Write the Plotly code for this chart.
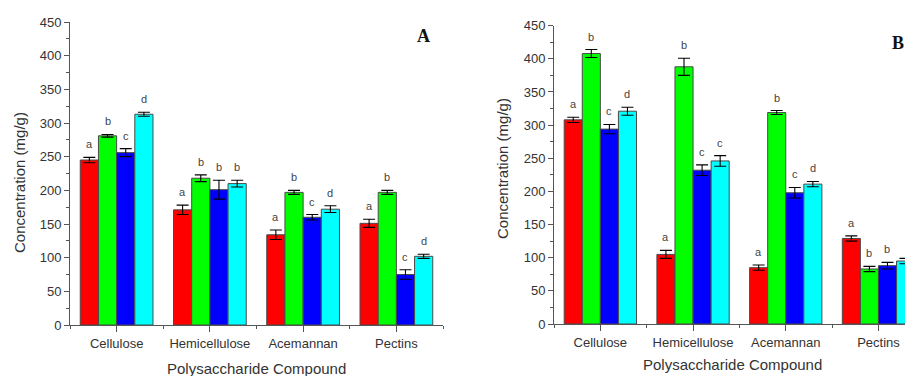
import plotly.graph_objects as go

categories = ["Cellulose", "Hemicellulose", "Acemannan", "Pectins"]
series_names = ["Red", "Green", "Blue", "Cyan"]
colors = ["#FF0000", "#00FF00", "#0000FF", "#00FFFF"]

# Panel A values (mg/g)
a_red = [245, 171, 134, 151]
a_green = [281, 218, 197, 197]
a_blue = [256, 201, 160, 75]
a_cyan = [313, 210, 172, 102]
a_red_err = [4, 7, 7, 6]
a_green_err = [2, 5, 3, 3]
a_blue_err = [6, 14, 4, 7]
a_cyan_err = [3, 5, 5, 3]
a_red_letters = ["a", "a", "a", "a"]
a_green_letters = ["b", "b", "b", "b"]
a_blue_letters = ["c", "b", "c", "c"]
a_cyan_letters = ["d", "b", "d", "d"]

# Panel B values (mg/g)
b_red = [308, 105, 85, 129]
b_green = [408, 388, 319, 83]
b_blue = [294, 232, 198, 88]
b_cyan = [321, 246, 211, 95]
b_red_err = [4, 6, 4, 4]
b_green_err = [6, 13, 3, 4]
b_blue_err = [7, 8, 8, 5]
b_cyan_err = [6, 8, 4, 4]
b_red_letters = ["a", "a", "a", "a"]
b_green_letters = ["b", "b", "b", "b"]
b_blue_letters = ["c", "c", "c", "b"]
b_cyan_letters = ["d", "c", "d", "c"]

y_ticks = [0, 50, 100, 150, 200, 250, 300, 350, 400, 450]

# the page body adds an 8px margin round the figure
OFF = 8
W, H = 913 - 2 * OFF, 376 - OFF
FONT = "Liberation Sans"
CAT_PX = 92.7  # width of one category on panel B, in pixels


def px(x):
    return (x - OFF) / W


def py(y):
    return 1 - (y - OFF) / H


panel_a = dict(
    vals=[a_red, a_green, a_blue, a_cyan],
    errs=[a_red_err, a_green_err, a_blue_err, a_cyan_err],
    letters=[a_red_letters, a_green_letters, a_blue_letters, a_cyan_letters],
)
panel_b = dict(
    vals=[b_red, b_green, b_blue, b_cyan],
    errs=[b_red_err, b_green_err, b_blue_err, b_cyan_err],
    letters=[b_red_letters, b_green_letters, b_blue_letters, b_cyan_letters],
)

xpos = list(range(len(categories)))
fig = go.Figure()
annotations = []

n = len(series_names)
group_frac = 0.78  # fraction of category used by the bar group
bw = group_frac / n

for p, (panel, xa, ya) in enumerate([(panel_a, "x", "y"), (panel_b, "x2", "y2")]):
    for i in range(n):
        fig.add_trace(go.Bar(
            x=xpos, y=panel["vals"][i], name=series_names[i],
            marker=dict(color=colors[i], line=dict(color="#4a4a4a", width=1)),
            error_y=dict(type="data", array=panel["errs"][i], color="#000000",
                         thickness=1.1, width=6),
            xaxis=xa, yaxis=ya, showlegend=False,
        ))
        offs = -group_frac / 2 + bw * (i + 0.5)
        for j in xpos:
            annotations.append(dict(
                x=j + offs, y=panel["vals"][i][j] + panel["errs"][i][j],
                xref=xa, yref=ya, text=panel["letters"][i][j], showarrow=False,
                yanchor="bottom", yshift=5,
                font=dict(family=FONT, size=11, color="#444444"),
            ))

axis_common = dict(
    showgrid=False, zeroline=False, showline=True, linecolor="#555555",
    linewidth=1, ticks="outside", tickcolor="#555555", tickfont=dict(family=FONT, size=13, color="#333333"),
)

b_right = OFF + W  # right edge of the visible figure
fig.update_layout(
    width=W, height=H,
    margin=dict(l=0, r=0, t=0, b=0, autoexpand=False),
    paper_bgcolor="white", plot_bgcolor="white",
    barmode="group", bargap=0.22, bargroupgap=0,
    xaxis=dict(domain=[px(70), px(443)], range=[-0.5, 3.5],
               tickvals=xpos, ticktext=categories, ticklen=6,
               minor=dict(tickvals=[-0.5, 0.5, 1.5, 2.5, 3.5], ticklen=3, ticks="outside", tickcolor="#555555"),
               anchor="y", **axis_common),
    yaxis=dict(domain=[py(325), py(22)], range=[0, 450], tickvals=y_ticks, ticklen=5,
               minor=dict(dtick=25, ticklen=3, ticks="outside", tickcolor="#555555"),
               anchor="x", **axis_common),
    xaxis2=dict(domain=[px(554), 1.0], range=[-0.5, -0.5 + (b_right - 554) / CAT_PX],
                tickvals=xpos, ticktext=categories, ticklen=6,
                minor=dict(tickvals=[-0.5, 0.5, 1.5, 2.5], ticklen=3, ticks="outside", tickcolor="#555555"),
                anchor="y2", **axis_common),
    yaxis2=dict(domain=[py(324), py(25.7)], range=[0, 450], tickvals=y_ticks, ticklen=5,
                minor=dict(dtick=25, ticklen=3, ticks="outside", tickcolor="#555555"),
                anchor="x2", **axis_common),
)

title_font = dict(family=FONT, size=15, color="#333333")
annotations += [
    dict(text="Concentration (mg/g)", x=px(19), y=py(183), xref="paper", yref="paper",
         textangle=-90, showarrow=False, font=title_font, xanchor="center", yanchor="middle"),
    dict(text="Polysaccharide Compound", x=px(257), y=py(368), xref="paper", yref="paper",
         showarrow=False, font=title_font, xanchor="center", yanchor="middle"),
    dict(text="Concentration (mg/g)", x=px(503), y=py(168), xref="paper", yref="paper",
         textangle=-90, showarrow=False, font=title_font, xanchor="center", yanchor="middle"),
    dict(text="Polysaccharide Compound", x=px(732), y=py(364), xref="paper", yref="paper",
         showarrow=False, font=title_font, xanchor="center", yanchor="middle"),
    dict(text="<b>A</b>", x=px(423), y=py(36), xref="paper", yref="paper", showarrow=False,
         font=dict(family="Liberation Serif", size=18, color="#111111"), xanchor="center", yanchor="middle"),
    dict(text="<b>B</b>", x=px(898), y=py(43), xref="paper", yref="paper", showarrow=False,
         font=dict(family="Liberation Serif", size=18, color="#111111"), xanchor="center", yanchor="middle"),
]
fig.update_layout(annotations=annotations)

fig.write_html("out.html")
